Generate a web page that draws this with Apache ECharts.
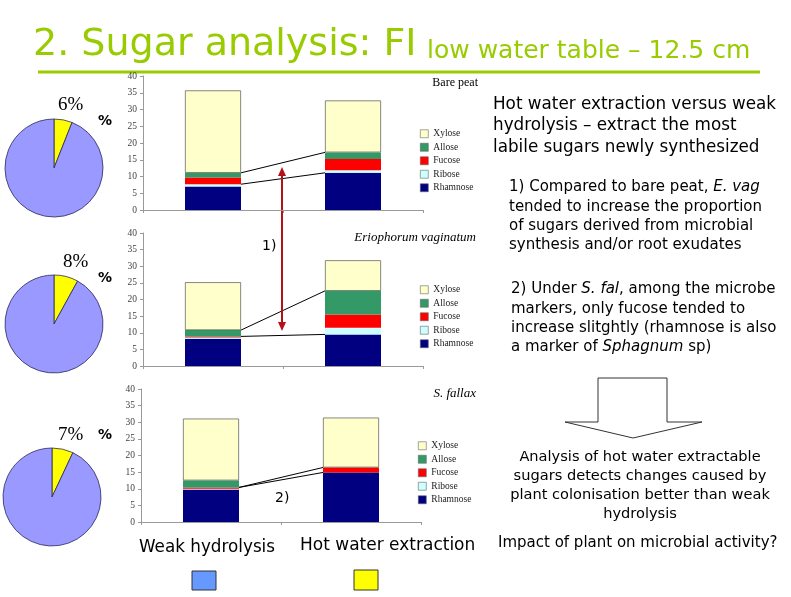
<!DOCTYPE html>
<html><head><meta charset="utf-8">
<script src="https://cdn.jsdelivr.net/npm/echarts@6/dist/echarts.min.js"></script>
<style>html,body{margin:0;padding:0;background:#fff;}#c{width:791px;height:597px;}</style>
</head><body><div id="c"></div>
<script>
// ---- data ----
const panels = ['Bare peat', 'Eriophorum vaginatum', 'S. fallax'];
const methods = ['Weak hydrolysis', 'Hot water extraction'];
const sugars = ['Rhamnose', 'Ribose', 'Fucose', 'Allose', 'Xylose'];
// each: [panel][weak, hot]
const rhamnose = [[7.0, 11.1], [8.2, 9.5], [9.8, 14.9]];
const ribose   = [[0.7, 0.8], [0.4, 2.0], [0.2, 0.0]];
const fucose   = [[2.0, 3.3], [0.3, 4.0], [0.4, 1.5]];
const allose   = [[1.4, 2.0], [1.9, 7.1], [2.1, 0.0]];
const xylose   = [[24.6, 15.5], [14.4, 9.2], [18.6, 15.0]];
const pieHot  = [6, 8, 7];
const pieWeak = [94, 92, 93];
const pieLabels = ['6%', '8%', '7%'];
const yTicks = [0, 5, 10, 15, 20, 25, 30, 35, 40];
// connectors: [level on weak bar, level on hot bar]
const connectors = [
  [['Ribose', 'Rhamnose'], ['Allose', 'Allose']],
  [['Fucose', 'Rhamnose'], ['Allose', 'Allose']],
  [['Fucose', 'Fucose'], ['Fucose', 'Rhamnose']]
];

const sugarData = {Rhamnose: rhamnose, Ribose: ribose, Fucose: fucose, Allose: allose, Xylose: xylose};
const sugarColor = {Rhamnose: '#000080', Ribose: '#ccffff', Fucose: '#ff0000', Allose: '#339966', Xylose: '#ffffcc'};

const chart = echarts.init(document.getElementById('c'));
const grids = [
  {left: 143, top: 76, width: 280, height: 134},
  {left: 143, top: 233, width: 280, height: 133},
  {left: 141, top: 389, width: 280, height: 133}
];
const legendTops = [123, 279, 435];
const legendLefts = [415, 415, 413];
const serif = '"Liberation Serif", "DejaVu Serif", serif';
const sans = '"DejaVu Sans", sans-serif';

const xAxis = [], yAxis = [], series = [], legend = [];
grids.forEach((g, i) => {
  xAxis.push({type: 'category', gridIndex: i, data: methods,
    axisLine: {lineStyle: {color: '#999'}}, axisTick: {show: true, lineStyle: {color: '#999'}, length: 3},
    axisLabel: {show: false}});
  yAxis.push({type: 'value', gridIndex: i, min: 0, max: 40, interval: 5,
    axisLine: {show: true, lineStyle: {color: '#999'}}, axisTick: {show: true, length: 3, lineStyle: {color: '#999'}},
    splitLine: {show: false},
    axisLabel: {fontFamily: serif, fontSize: 9.5, color: '#444', margin: 6,
      formatter: v => yTicks.indexOf(v) >= 0 ? String(v) : ''}});
  sugars.forEach(s => {
    series.push({name: s, type: 'bar', xAxisIndex: i, yAxisIndex: i, stack: 'p' + i,
      barWidth: '40%', data: sugarData[s][i],
      itemStyle: s === 'Xylose' ? {color: sugarColor[s], borderColor: '#555', borderWidth: 0.7} : {color: sugarColor[s]},
      emphasis: {disabled: true}});
  });
  legend.push({orient: 'vertical', left: legendLefts[i], top: legendTops[i],
    data: ['Xylose', 'Allose', 'Fucose', 'Ribose', 'Rhamnose'],
    icon: 'rect', itemWidth: 8, itemHeight: 8, itemGap: 2,
    itemStyle: {borderColor: '#666', borderWidth: 0.6},
    textStyle: {fontFamily: serif, fontSize: 9.5, color: '#222', lineHeight: 11.5}, selectedMode: false});
});
const pieCenters = [[54, 168], [54, 324], [52, 497]];
pieCenters.forEach((c, i) => {
  series.push({type: 'pie', center: c, radius: 49, startAngle: 90, clockwise: true,
    label: {show: false}, labelLine: {show: false}, silent: true,
    itemStyle: {borderColor: '#2a2a5a', borderWidth: 0.8},
    data: [{name: 'Hot water extraction', value: pieHot[i], itemStyle: {color: '#ffff00'}},
           {name: 'Weak hydrolysis', value: pieWeak[i], itemStyle: {color: '#9999ff'}}]});
});

chart.setOption({animation: false, grid: grids, xAxis, yAxis, series, legend});

// ---- graphics ----
const G = [];
function txt(x, y, text, opt) {
  G.push({type: 'text', x, y, silent: true, style: Object.assign({text, fill: '#000', font: '14px ' + sans,
    verticalAlign: 'middle'}, opt || {})});
}
function line(x1, y1, x2, y2, stroke, w) {
  G.push({type: 'line', silent: true, shape: {x1, y1, x2, y2}, style: {stroke, lineWidth: w || 1}});
}
// Title
txt(33, 45, '2. Sugar analysis: FI', {fill: '#99cc00', font: '38px ' + sans});
txt(427, 51, 'low water table – 12.5 cm', {fill: '#99cc00', font: '25px ' + sans});
line(38, 72, 760, 72, '#99cc00', 3);

// panel titles
txt(478, 83, 'Bare peat', {font: '12px ' + serif, align: 'right'});
txt(476, 238, 'Eriophorum vaginatum', {font: 'italic 13px ' + serif, align: 'right'});
txt(476, 394, 'S. fallax', {font: 'italic 13px ' + serif, align: 'right'});

// pie labels
const pieLabelPos = [[58, 105], [63, 262], [58, 435]];
const pctPos = [[98, 121], [98, 278], [98, 435]];
pieLabels.forEach((l, i) => {
  txt(pieLabelPos[i][0], pieLabelPos[i][1], l, {font: '19px ' + serif});
  txt(pctPos[i][0], pctPos[i][1], '%', {font: 'bold 14px ' + sans});
});

// connector lines from data
const order = sugars;
function cum(panel, bar, level) {
  let s = 0;
  for (let k = 0; k <= order.indexOf(level); k++) s += sugarData[order[k]][panel][bar];
  return s;
}
connectors.forEach((pairs, p) => {
  const p0 = chart.convertToPixel({gridIndex: p}, [0, 0]);
  const p1 = chart.convertToPixel({gridIndex: p}, [1, 0]);
  const half = (p1[0] - p0[0]) * 0.2;
  pairs.forEach(pr => {
    const a = chart.convertToPixel({gridIndex: p}, [0, cum(p, 0, pr[0])]);
    const b = chart.convertToPixel({gridIndex: p}, [1, cum(p, 1, pr[1])]);
    line(a[0] + half, a[1], b[0] - half, b[1], '#000', 1);
  });
});

// red double arrow
const red = '#b3121b';
line(282, 174, 282, 324, red, 2);
G.push({type: 'polygon', silent: true, shape: {points: [[282, 167], [278, 176], [286, 176]]}, style: {fill: red}});
G.push({type: 'polygon', silent: true, shape: {points: [[282, 331], [278, 322], [286, 322]]}, style: {fill: red}});
txt(262, 246, '1)', {font: '14px ' + sans});
txt(275, 498, '2)', {font: '14px ' + sans});

// right text
const f1 = '16.8px ' + sans, f2 = '15px ' + sans, f3 = '14.6px ' + sans;
const rich = {i: {fontStyle: 'italic', fontSize: 15, fontFamily: sans}};
txt(493, 105, 'Hot water extraction versus weak', {font: f1});
txt(493, 126, 'hydrolysis – extract the most', {font: f1});
txt(493, 148, 'labile sugars newly synthesized', {font: f1});
txt(509, 187, '1) Compared to bare peat, {i|E. vag}', {font: f2, rich});
txt(509, 207, 'tended to increase the proportion', {font: f2});
txt(509, 226, 'of sugars derived from microbial', {font: f2});
txt(509, 245, 'synthesis and/or root exudates', {font: f2});
txt(511, 289, '2) Under {i|S. fal}, among the microbe', {font: f2, rich});
txt(511, 309, 'markers, only fucose tended to', {font: f2});
txt(511, 328, 'increase slitghtly (rhamnose is also', {font: f2});
txt(511, 347, 'a marker of {i|Sphagnum} sp)', {font: f2, rich});

// block arrow
G.push({type: 'polygon', silent: true, shape: {points: [[598, 378], [667, 378], [667, 422], [702, 422], [633, 438], [565, 422], [598, 422]]},
  style: {fill: '#fff', stroke: '#333', lineWidth: 1}});
const ac = {font: f3, align: 'center'};
txt(640, 457, 'Analysis of hot water extractable', ac);
txt(640, 476, 'sugars detects changes caused by', ac);
txt(640, 495, 'plant colonisation better than weak', ac);
txt(640, 514, 'hydrolysis', ac);
txt(498, 543, 'Impact of plant on microbial activity?', {font: '15px ' + sans});

// bottom legend
txt(139, 548, 'Weak hydrolysis', {font: '16.8px ' + sans});
txt(300, 546, 'Hot water extraction', {font: '17px ' + sans});
G.push({type: 'rect', silent: true, shape: {x: 192, y: 571, width: 24, height: 19}, style: {fill: '#6699ff', stroke: '#333', lineWidth: 1}});
G.push({type: 'rect', silent: true, shape: {x: 354, y: 570, width: 24, height: 20}, style: {fill: '#ffff00', stroke: '#333', lineWidth: 1}});

chart.setOption({graphic: G});
</script></body></html>
